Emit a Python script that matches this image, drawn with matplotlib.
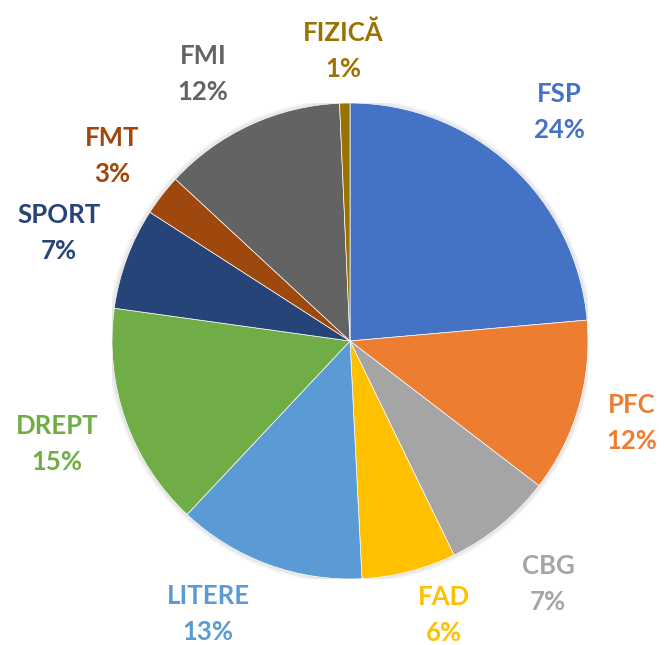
import numpy as np
import matplotlib.pyplot as plt
from matplotlib.patches import Circle

# slices, clockwise from the top
names = ["FSP", "PFC", "CBG", "FAD", "LITERE", "DREPT", "SPORT", "FMT", "FMI", "FIZICĂ"]
shares = [23.6, 11.8, 7.4, 6.4, 12.8, 15.2, 6.9, 2.8, 12.4, 0.7]
colors = ["#4472C4", "#ED7D31", "#A5A5A5", "#FFC000", "#5B9BD5",
          "#70AD47", "#264478", "#9E480E", "#636363", "#997300"]
# label placement: distance in pie radii, and angular shift (deg, ccw)
label_dist = [1.305, 1.234, 1.317, 1.217, 1.293, 1.306, 1.306, 1.266, 1.28, 1.22]
label_shift = [0, 0, 0, 4.5, -7.3, 0, 0, 0, 4, 0]

W, H = 664, 645
cx, cy, r = 350, 341, 238

fig = plt.figure(figsize=(W / 100, H / 100), dpi=100)
ax = fig.add_axes([(cx - r) / W, (H - cy - r) / H, 2 * r / W, 2 * r / H])

# soft shadow around the pie
for k in range(6):
    ax.add_patch(Circle((0, 0.0), 1 + 0.004 * k, color="black",
                        alpha=0.025, lw=0, zorder=0))

wedges, _ = ax.pie(shares, colors=colors, startangle=90, counterclock=False,
                   radius=1, wedgeprops=dict(edgecolor="white", linewidth=0.5))
ax.set_xlim(-1, 1)
ax.set_ylim(-1, 1)
ax.set_aspect("equal")
ax.axis("off")

for w, name, val, col, d, s in zip(wedges, names, shares, colors,
                                   label_dist, label_shift):
    mid = np.deg2rad((w.theta1 + w.theta2) / 2 + s)
    x, y = d * np.cos(mid), d * np.sin(mid)
    ax.text(x, y, f"{name}\n{val:.0f}%", ha="center", va="center",
            color=col, fontsize=18.5, fontweight="bold", family="Lato",
            linespacing=1.6)

fig.savefig("out.png", dpi=100)
